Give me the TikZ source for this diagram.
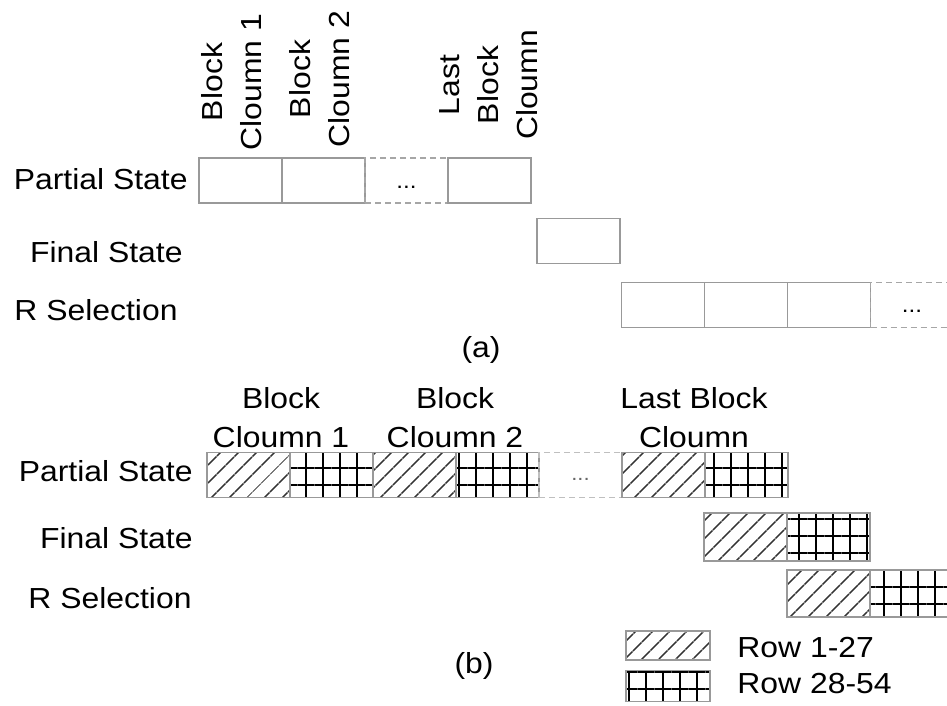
\documentclass[tikz,border=0pt]{standalone}
\usepackage{fontspec}
\setmainfont{Liberation Sans}[FakeStretch=1.1]
\usetikzlibrary{positioning,patterns.meta}
\tikzset{
  cell/.style={draw=black!40,line width=0.7pt,minimum width=41.5pt,minimum height=22.5pt,inner sep=0pt,outer sep=0pt},
  dotcell/.style={cell,draw=black!35,dash pattern=on 3pt off 2pt,text height=7.5pt,text depth=0pt,font=\fontsize{11}{13}\selectfont},
  hatchcell/.style={cell,pattern={Lines[angle=45,distance=6.5pt,line width=0.8pt]},pattern color=black!80},
  gridcell/.style={cell,pattern={Hatch[distance=8.5pt,line width=1pt]},pattern color=black},
  rowlabel/.style={anchor=base east,inner sep=0pt},
  collabel/.style={anchor=south,inner sep=0pt,align=center},
}
\begin{document}
\begin{tikzpicture}[x=0.5pt,y=-0.5pt,font=\fontsize{14.5}{19.5}\selectfont]
			\useasboundingbox (0,0) rectangle (947,706);
			\node[rowlabel] (psA) at (188,189) {Partial State};
			\node[rowlabel] (fsA) at (183,262) {Final State};
			\node[rowlabel] (rsA) at (178,320) {R Selection};
			\node[rotate=90,align=center] (colA1) at (232,82) {Block\\Cloumn 1};
			\node[rotate=90,align=center] (colA2) at (320,79) {Block\\Cloumn 2};
			\node[rotate=90,align=center] (colA3) at (489,85) {Last\\Block\\Cloumn};
			\node[cell] (ps1) at (240.5,180.5) {};
			\node[cell,right=0pt of ps1] (ps2) {};
			\node[dotcell,right=0pt of ps2] (ps3) {...};
			\node[cell,right=0pt of ps3] (ps4) {};
			\node[cell] (fs) at (578.5,241) {};
			\node[cell] (rs1) at (663,305) {};
			\node[cell,right=0pt of rs1] (rs2) {};
			\node[cell,right=0pt of rs2] (rs3) {};
			\node[dotcell,right=0pt of rs3] (rs4) {...};
			\node (capA) at (481,350) {(a)};
			\node[rowlabel] (psB) at (193,481) {Partial State};
			\node[rowlabel] (fsB) at (193,548) {Final State};
			\node[rowlabel] (rsB) at (192,608) {R Selection};
			\node[collabel] (colB1) at (281,448) {Block\\Cloumn 1};
			\node[collabel] (colB2) at (455,448) {Block\\Cloumn 2};
			\node[collabel] (colB3) at (694,448) {Last Block\\Cloumn};
			\node[hatchcell] (ph1) at (248.5,475) {};
			\node[gridcell,right=0pt of ph1] (pg1) {};
			\node[hatchcell,right=0pt of pg1] (ph2) {};
			\node[gridcell,right=0pt of ph2] (pg2) {};
			\node[dotcell,right=0pt of pg2,draw=black!25,text height=5pt,text=black!60,font=\fontsize{10}{12}\selectfont] (pd) {...};
			\node[hatchcell,right=0pt of pd] (ph3) {};
			\node[gridcell,right=0pt of ph3] (pg3) {};
			\node[hatchcell,minimum height=24pt] (fh) at (745.5,537) {};
			\node[gridcell,minimum height=24pt,right=0pt of fh] (fg) {};
			\node[hatchcell,minimum height=23.5pt] (rh) at (828.5,593.5) {};
			\node[gridcell,minimum height=23.5pt,right=0pt of rh] (rg) {};
			\node[hatchcell,minimum width=42pt,minimum height=14.5pt] (keyh) at (668,645.5) {};
			\node[gridcell,minimum width=42pt,minimum height=15.5pt] (keyg) at (668,686) {};
			\node[anchor=base west,inner sep=0pt] (keyhT) at (737,657) {Row 1-27};
			\node[anchor=base west,inner sep=0pt] (keygT) at (737,693) {Row 28-54};
			\node (capB) at (474,666) {(b)};
\end{tikzpicture}
\end{document}
